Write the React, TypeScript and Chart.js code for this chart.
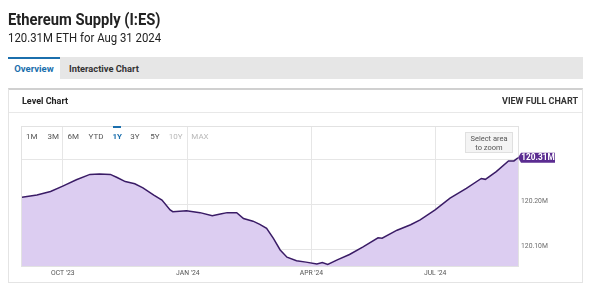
import React, { useEffect, useRef } from "react";
import { Chart, registerables } from "chart.js";

Chart.register(...registerables);

// ---- data (day offset from Sep 1 2023, supply in millions ETH) ----
const days = [0, 11, 21, 30, 40, 50, 57, 65, 70, 76, 83, 89, 97, 103, 109, 111, 121, 131, 140, 146, 151, 158, 163, 170, 175, 180, 185, 190, 195, 202, 209, 217, 221, 225, 232, 241, 251, 262, 265, 276, 286, 293, 304, 315, 327, 338, 341, 349, 358, 362, 365];
const supply = [120.217, 120.222, 120.23, 120.242, 120.256, 120.268, 120.269, 120.268, 120.261, 120.252, 120.247, 120.238, 120.222, 120.211, 120.189, 120.185, 120.187, 120.183, 120.176, 120.18, 120.183, 120.183, 120.17, 120.164, 120.157, 120.148, 120.126, 120.1, 120.084, 120.076, 120.073, 120.069, 120.072, 120.068, 120.078, 120.09, 120.107, 120.127, 120.126, 120.144, 120.156, 120.167, 120.189, 120.215, 120.237, 120.259, 120.257, 120.274, 120.298, 120.298, 120.305];
const xTickDays = [30, 122, 213, 304];
const xTickLabels = ["OCT '23", "JAN '24", "APR '24", "JUL '24"];
const yTickValues = [120.1, 120.2, 120.3];
const yTickLabels = ["120.10M", "120.20M", ""];
const lastLabel = "120.31M";
const rangeButtons = ["1M", "3M", "6M", "YTD", "1Y", "3Y", "5Y", "10Y", "MAX"];
const activeRange = "1Y";
const disabledRanges = ["10Y", "MAX"];

const FONT = 'Roboto, "Noto Sans", sans-serif';

const buttonCenters = [31.7, 53.3, 73.3, 96, 117.3, 135, 155, 175.7, 200];

function drawNarrow(ctx: CanvasRenderingContext2D, text: string, x: number, y: number, sx: number) {
  ctx.save();
  ctx.translate(x, y);
  ctx.scale(sx, 1);
  ctx.fillText(text, 0, 0);
  ctx.restore();
}

export default function App() {
  const ref = useRef<HTMLCanvasElement | null>(null);

  useEffect(() => {
    if (!ref.current) return;
    const overlay = {
      id: "overlay",
      beforeDraw(chart: any) {
        const { ctx, chartArea } = chart;
        ctx.save();
        ctx.strokeStyle = "#e2e2e2";
        ctx.lineWidth = 1;
        ctx.strokeRect(chartArea.left - 0.5, chartArea.top - 0.5, chartArea.right - chartArea.left + 1, chartArea.bottom - chartArea.top + 1);
        ctx.restore();
      },
      afterDraw(chart: any) {
        const { ctx, chartArea, scales } = chart;
        const y = scales.y;
        const x = scales.x;
        ctx.save();
        ctx.font = `8px ${FONT}`;
        ctx.fillStyle = "#6b6b6b";
        ctx.textAlign = "left";
        ctx.textBaseline = "middle";
        yTickValues.forEach((v, i) => {
          if (!yTickLabels[i]) return;
          drawNarrow(ctx, yTickLabels[i], chartArea.right + 3, y.getPixelForValue(v) - 4, 0.85);
        });
        ctx.font = `8px ${FONT}`;
        ctx.fillStyle = "#555555";
        ctx.textAlign = "center";
        xTickDays.forEach((d, i) => {
          drawNarrow(ctx, xTickLabels[i], x.getPixelForValue(d), chartArea.bottom + 7, 0.85);
        });
        const lx = x.getPixelForValue(days[days.length - 1]);
        const ly = y.getPixelForValue(supply[supply.length - 1]);
        const bx = lx + 3;
        const bw = 34;
        const bh = 10;
        ctx.fillStyle = "#5b2c91";
        ctx.beginPath();
        ctx.moveTo(lx, ly);
        ctx.lineTo(bx, ly - bh / 2);
        ctx.lineTo(bx + bw, ly - bh / 2);
        ctx.lineTo(bx + bw, ly + bh / 2);
        ctx.lineTo(bx, ly + bh / 2);
        ctx.closePath();
        ctx.fill();
        ctx.fillStyle = "#ffffff";
        ctx.font = `bold 9px ${FONT}`;
        ctx.textAlign = "center";
        drawNarrow(ctx, lastLabel, bx + bw / 2, ly + 0.5, 0.92);
        ctx.restore();
      },
    };

    const chart = new Chart(ref.current, {
      type: "line",
      data: {
        datasets: [
          {
            data: days.map((d, i) => ({ x: d, y: supply[i] })),
            borderColor: "#3a1c66",
            borderWidth: 1.5,
            backgroundColor: "#dccdf1",
            fill: "start",
            pointRadius: 0,
            tension: 0,
          },
        ],
      },
      options: {
        animation: false,
        responsive: false,
        maintainAspectRatio: false,
        events: [],
        layout: { padding: { left: 22, top: 127, right: 82, bottom: 10 } },
        plugins: { legend: { display: false }, tooltip: { enabled: false } },
        scales: {
          x: {
            type: "linear",
            min: 0,
            max: 365,
            afterBuildTicks: (s: any) => {
              s.ticks = xTickDays.map((v) => ({ value: v }));
            },
            afterFit: (s: any) => {
              s.height = 14;
            },
            ticks: { display: false },
            grid: { color: "#e6e6e6", drawTicks: false, lineWidth: 1 },
            border: { display: false },
          },
          y: {
            type: "linear",
            position: "right",
            min: 120.0644,
            max: 120.3733,
            afterBuildTicks: (s: any) => {
              s.ticks = yTickValues.map((v) => ({ value: v }));
            },
            afterFit: (s: any) => {
              s.width = 0;
            },
            ticks: { display: false },
            grid: { color: "#e6e6e6", drawTicks: false, lineWidth: 1 },
            border: { display: false },
          },
        },
      },
      plugins: [overlay],
    } as any);
    return () => chart.destroy();
  }, []);

  const abs = (s: React.CSSProperties): React.CSSProperties => ({ position: "absolute", ...s });

  return (
    <div style={{ position: "fixed", left: 0, top: 0, width: 600, height: 290, background: "#fff", fontFamily: FONT, overflow: "hidden" }}>
      <canvas ref={ref} width={600} height={290} style={abs({ left: 0, top: 0, width: 600, height: 290 })} />
      {/* header */}
      <div style={abs({ left: 8, top: 9.5, fontSize: 15.7, fontWeight: 700, color: "#222", whiteSpace: "nowrap", lineHeight: "20px", transform: "scaleX(0.94)", transformOrigin: "left center" })}>Ethereum Supply (I:ES)</div>
      <div style={abs({ left: 8, top: 30, fontSize: 12.5, color: "#222", whiteSpace: "nowrap", lineHeight: "16px", transform: "scaleX(0.91)", transformOrigin: "left center" })}>120.31M ETH for Aug 31 2024</div>
      {/* tabs */}
      <div style={abs({ left: 8, top: 57, width: 575, height: 22, background: "#e6e6e6" })} />
      <div style={abs({ left: 8, top: 57, width: 52, height: 22, background: "#fff", borderTop: "2px solid #1b6fad", boxSizing: "border-box" })} />
      <div style={abs({ left: 8, top: 61, width: 52, height: 16, lineHeight: "16px", textAlign: "center", fontSize: 9.5, fontWeight: 700, color: "#1b6fad" })}>Overview</div>
      <div style={abs({ left: 69, top: 61, height: 16, lineHeight: "16px", fontSize: 9.3, fontWeight: 700, color: "#333", whiteSpace: "nowrap" })}>Interactive Chart</div>
      {/* panel */}
      <div style={abs({ left: 8, top: 88, width: 575, height: 195, borderTop: "2px solid #d0d0d0", borderLeft: "1px solid #e4e4e4", borderRight: "1px solid #e4e4e4", borderBottom: "1px solid #e4e4e4", boxSizing: "border-box" })} />
      <div style={abs({ left: 9, top: 112, width: 573, height: 1, background: "#e8e8e8" })} />
      <div style={abs({ left: 22, top: 94, lineHeight: "14px", fontSize: 9, fontWeight: 700, color: "#222", whiteSpace: "nowrap" })}>Level Chart</div>
      <div style={abs({ right: 22, top: 94, lineHeight: "14px", fontSize: 9, fontWeight: 700, color: "#333", whiteSpace: "nowrap" })}>VIEW FULL CHART</div>
      {/* range selector */}
      {rangeButtons.map((b, i) => (
        <div
          key={b}
          style={abs({
            left: buttonCenters[i] - 15,
            width: 30,
            top: 131,
            lineHeight: "12px",
            textAlign: "center",
            fontSize: 8,
            color: b === activeRange ? "#1b6fad" : disabledRanges.includes(b) ? "#b8b8b8" : "#555",
            fontWeight: b === activeRange ? 700 : 400,
          })}
        >
          {b}
        </div>
      ))}
      <div style={abs({ left: buttonCenters[4] - 4, top: 126, width: 8, height: 2, background: "#1b6fad" })} />
      {/* select area button */}
      <div style={abs({ left: 465, top: 132, width: 48, height: 21, background: "#f4f4f4", border: "1px solid #e0e0e0", boxSizing: "border-box", fontSize: 7.5, lineHeight: "9px", color: "#555", textAlign: "center", paddingTop: 1 })}>
        Select area
        <br />
        to zoom
      </div>
    </div>
  );
}
